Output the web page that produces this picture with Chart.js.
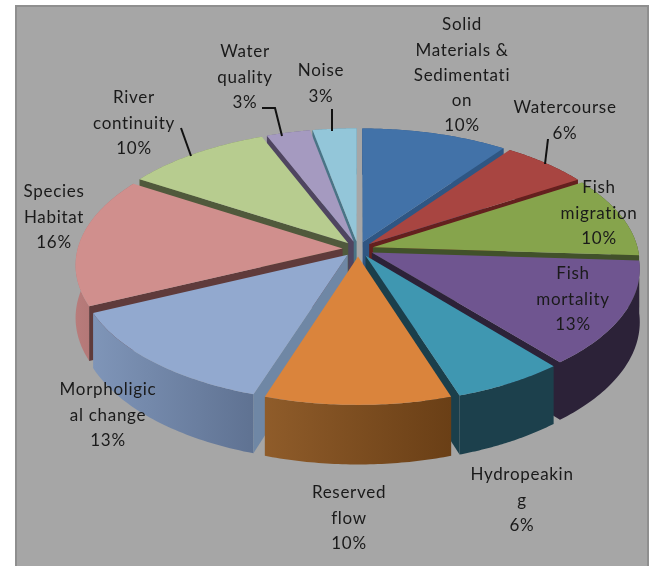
<!DOCTYPE html>
<html>
<head>
<meta charset="utf-8">
<title>Pressures pie</title>
<script src="https://cdn.jsdelivr.net/npm/chart.js@4"></script>
<style>
  html, body { margin: 0; padding: 0; background: #fff; }
  #frame { position: absolute; left: 15px; top: 5px; width: 630px; height: 561px; background: #a6a6a6; border: 2px solid #8f8f8f; border-bottom: 0; }
  #pie { position: absolute; left: 0; top: 0; filter: blur(0.45px); }
</style>
</head>
<body>
<div id="frame"></div>
<canvas id="pie" width="655" height="566"></canvas>
<script>
const categories = [
  ['Solid', 'Materials &', 'Sedimentati', 'on'],
  ['Watercourse'],
  ['Fish', 'migration'],
  ['Fish', 'mortality'],
  ['Hydropeakin', 'g'],
  ['Reserved', 'flow'],
  ['Morpholigic', 'al change'],
  ['Species', 'Habitat'],
  ['River', 'continuity'],
  ['Water', 'quality'],
  ['Noise']
];
const values = [10, 6, 10, 13, 6, 10, 13, 16, 10, 3, 3];

const topColors = ['#4272a8', '#a84541', '#86a44c', '#6f5590', '#3f97b1', '#da843c', '#92a9cf', '#d08f8d', '#b7cc8f', '#a59ac0', '#93c6d9'];
const cutColors = ['#2f5683', '#64201e', '#41512a', '#2c2238', '#1b3f4b', '#7a4a1e', '#6f87a5', '#5f3b3b', '#50593c', '#4f4560', '#4a7486'];
const rimLeft = ['#2f5683', '#64201e', '#41512a', '#2c2238', '#1c404c', '#8f5c2a', '#7f95b8', '#b87c7b', '#7d8c60', '#6f6785', '#5f8797'];
const rimRight = ['#2f5683', '#64201e', '#41512a', '#2c2238', '#1c404c', '#6a3f16', '#5f7292', '#a56c6b', '#7d8c60', '#6f6785', '#5f8797'];

// centre x, y of first line, per label
const labelX = [462, 565, 599, 573, 522, 349, 108, 54, 134, 245, 321];
const labelY = [25, 108, 188, 274, 475, 493, 390, 192, 98, 52, 71];
const lineGap = 25.2;
const leaders = [
  [[548, 139], [545, 164]],
  [[181, 128], [191, 156]],
  [[262, 108], [275, 108], [282, 136]],
  [[332, 109], [332, 131]]
];

// pie plane -> screen
const cx = 358, cy = 249, rx = 265, ry = 128.6, persp = 0.12, depth = 52;
function project(u, v, down) {
  const w = 1 / (1 + persp * v);
  return { x: cx + rx * u * w, y: cy - ry * v * w + (down ? depth * w : 0) };
}

function fillPoly(ctx, pts, fill) {
  ctx.beginPath();
  pts.forEach((p, i) => i ? ctx.lineTo(p.x, p.y) : ctx.moveTo(p.x, p.y));
  ctx.closePath();
  ctx.fillStyle = fill;
  ctx.fill();
}

function area(pts) {
  let a = 0;
  pts.forEach((p, i) => {
    const q = pts[(i + 1) % pts.length];
    a += p.x * q.y - q.x * p.y;
  });
  return a;
}

function drawWedge(ctx, arc, i) {
  const start = arc.startAngle, end = arc.endAngle, mid = (start + end) / 2;
  const d = arc.options.offset / arc.outerRadius;
  const ou = d * Math.cos(mid), ov = -d * Math.sin(mid);
  const outer = [];
  for (let s = 0; s <= 48; s++) {
    const a = start + (end - start) * s / 48;
    outer.push([ou + Math.cos(a), ov - Math.sin(a)]);
  }
  const topArc = outer.map(o => project(o[0], o[1], false));
  const lowArc = outer.map(o => project(o[0], o[1], true));
  const apex = project(ou, ov, false), apexLow = project(ou, ov, true);

  // outside of the slice
  const xs = lowArc.map(p => p.x);
  const grad = ctx.createLinearGradient(Math.min(...xs), 0, Math.max(...xs), 0);
  grad.addColorStop(0, rimLeft[i]);
  grad.addColorStop(1, rimRight[i]);
  fillPoly(ctx, topArc.concat(lowArc.slice().reverse()), grad);

  // the two cut faces, only when they look at the viewer
  const last = topArc.length - 1;
  const faceA = [apex, topArc[0], lowArc[0], apexLow];
  const faceB = [topArc[last], apex, apexLow, lowArc[last]];
  if (area(faceA) < 0) fillPoly(ctx, faceA, cutColors[i]);
  if (area(faceB) < 0) fillPoly(ctx, faceB, cutColors[i]);

  fillPoly(ctx, [apex].concat(topArc), topColors[i]);
}

const pie3d = {
  id: 'pie3d',
  beforeDatasetDraw() {
    return false;
  },
  afterDraw(chart) {
    const ctx = chart.ctx;
    const arcs = chart.getDatasetMeta(0).data;
    const order = arcs.map((a, i) => i).sort((a, b) => {
      const ma = (arcs[a].startAngle + arcs[a].endAngle) / 2;
      const mb = (arcs[b].startAngle + arcs[b].endAngle) / 2;
      return Math.sin(ma) - Math.sin(mb);
    });
    ctx.save();
    order.forEach(i => drawWedge(ctx, arcs[i], i));

    ctx.strokeStyle = '#111';
    ctx.lineWidth = 2;
    leaders.forEach(line => {
      ctx.beginPath();
      line.forEach((p, i) => i ? ctx.lineTo(p[0], p[1]) : ctx.moveTo(p[0], p[1]));
      ctx.stroke();
    });

    ctx.font = '17px Lato';
    ctx.letterSpacing = '0.7px';
    ctx.fillStyle = '#1a1a1a';
    ctx.textAlign = 'center';
    ctx.textBaseline = 'middle';
    categories.forEach((lines, i) => {
      const all = lines.concat(values[i] + '%');
      all.forEach((t, n) => ctx.fillText(t, labelX[i], labelY[i] + n * lineGap));
    });
    ctx.restore();
  }
};

new Chart(document.getElementById('pie'), {
  type: 'pie',
  data: {
    labels: categories,
    datasets: [{ data: values, backgroundColor: topColors, borderWidth: 0, offset: 16 }]
  },
  options: {
    responsive: false,
    animation: false,
    plugins: { legend: { display: false }, tooltip: { enabled: false } }
  },
  plugins: [pie3d]
});
</script>
</body>
</html>
